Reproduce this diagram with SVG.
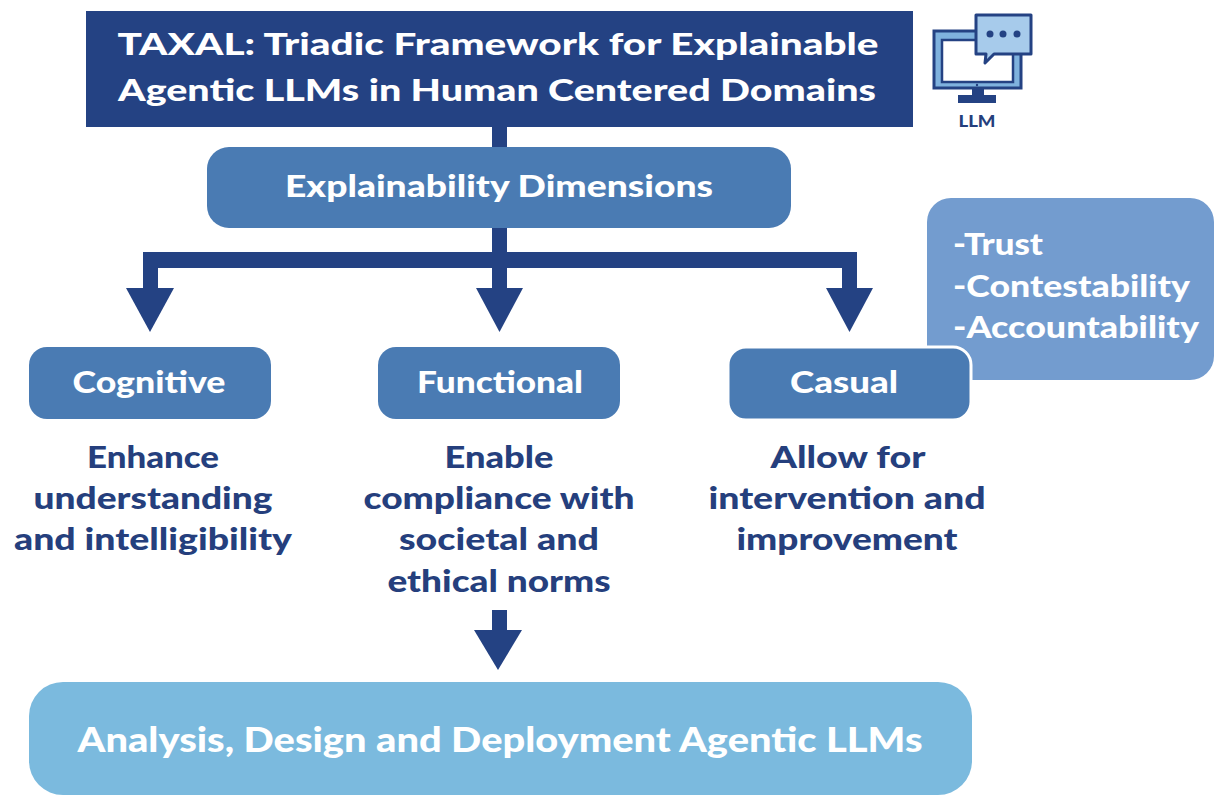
<svg xmlns="http://www.w3.org/2000/svg" width="1214" height="795" viewBox="0 0 1214 795">
<style>
.t{font-family:Lato,"Liberation Sans",sans-serif;font-weight:900;}
.w{fill:#ffffff;}
.n{fill:#253f7d;}
.dark{fill:#244283;}
.mid{fill:#4a7bb3;}
.c{text-anchor:middle;}
</style>
<rect width="1214" height="795" fill="#ffffff"/>
<g id="connectors" fill="#244283" stroke="none">
  <rect x="492" y="125" width="15" height="24"/>
  <rect x="492" y="226" width="15" height="30"/>
  <rect x="143" y="252" width="714" height="16"/>
  <rect x="143" y="252" width="15" height="38"/>
  <polygon points="126,288 174,288 150,332"/>
  <rect x="492" y="252" width="15" height="38"/>
  <polygon points="476,288 523,288 499.5,332"/>
  <rect x="842" y="252" width="15" height="38"/>
  <polygon points="826,288 873,288 849.5,332"/>
  <rect x="492" y="610" width="15" height="22"/>
  <polygon points="474,630 522,630 498,670"/>
</g>
<g id="title">
  <rect x="86" y="11" width="827" height="116" class="dark"/>
  <text class="t w c" x="498" y="55" font-size="31" textLength="761" lengthAdjust="spacingAndGlyphs">TAXAL: Triadic Framework for Explainable</text>
  <text class="t w c" x="497" y="101" font-size="31" textLength="758" lengthAdjust="spacingAndGlyphs">Agentic LLMs in Human Centered Domains</text>
</g>
<g id="llm-icon">
  <rect x="934" y="31" width="87" height="57" fill="#7fb2de" stroke="#244283" stroke-width="3"/>
  <rect x="942" y="40" width="71" height="42" fill="#ffffff" stroke="#244283" stroke-width="2.5"/>
  <rect x="972" y="88" width="12" height="7" fill="#244283"/>
  <rect x="958" y="95" width="38" height="8" fill="#244283"/>
  <circle cx="977" cy="85" r="1.2" fill="#244283"/>
  <path d="M976,15 L1031,15 L1031,54 L994,54 L985,63 L986,54 L976,54 Z" fill="#a7cbeb" stroke="#244283" stroke-width="3" stroke-linejoin="round"/>
  <circle cx="990" cy="34" r="3.5" fill="#244283"/>
  <circle cx="1003" cy="34" r="3.5" fill="#244283"/>
  <circle cx="1017" cy="34" r="3.5" fill="#244283"/>
  <text class="t n c" x="977" y="127" font-size="17" textLength="37" lengthAdjust="spacingAndGlyphs">LLM</text>
</g>
<g id="explainability">
  <rect x="207" y="147" width="584" height="81" rx="22" class="mid"/>
  <text class="t w c" x="499" y="197" font-size="31" textLength="428" lengthAdjust="spacingAndGlyphs">Explainability Dimensions</text>
</g>
<g id="outcomes">
  <rect x="927" y="198" width="287" height="182" rx="24" fill="#739ccf"/>
  <text class="t w" x="953" y="255" font-size="31" textLength="90" lengthAdjust="spacingAndGlyphs">-Trust</text>
  <text class="t w" x="953" y="297" font-size="31" textLength="237" lengthAdjust="spacingAndGlyphs">-Contestability</text>
  <text class="t w" x="953" y="338" font-size="31" textLength="246" lengthAdjust="spacingAndGlyphs">-Accountability</text>
</g>
<g id="cognitive">
  <rect x="29" y="347" width="242" height="72" rx="18" class="mid"/>
  <text class="t w c" x="149" y="393" font-size="31" textLength="153" lengthAdjust="spacingAndGlyphs">Cognitive</text>
  <text class="t n c" x="153" y="468" font-size="31" textLength="132" lengthAdjust="spacingAndGlyphs">Enhance</text>
  <text class="t n c" x="153" y="509" font-size="31" textLength="239" lengthAdjust="spacingAndGlyphs">understanding</text>
  <text class="t n c" x="153" y="550" font-size="31" textLength="278" lengthAdjust="spacingAndGlyphs">and intelligibility</text>
</g>
<g id="functional">
  <rect x="378" y="347" width="242" height="72" rx="18" class="mid"/>
  <text class="t w c" x="500" y="393" font-size="31" textLength="166" lengthAdjust="spacingAndGlyphs">Functional</text>
  <text class="t n c" x="499" y="468" font-size="31" textLength="109" lengthAdjust="spacingAndGlyphs">Enable</text>
  <text class="t n c" x="499" y="509" font-size="31" textLength="271" lengthAdjust="spacingAndGlyphs">compliance with</text>
  <text class="t n c" x="499" y="550" font-size="31" textLength="200" lengthAdjust="spacingAndGlyphs">societal and</text>
  <text class="t n c" x="499" y="592" font-size="31" textLength="223" lengthAdjust="spacingAndGlyphs">ethical norms</text>
</g>
<g id="casual">
  <rect x="728" y="347" width="243" height="73" rx="18" class="mid" stroke="#ffffff" stroke-width="3"/>
  <text class="t w c" x="844" y="393" font-size="31" textLength="108" lengthAdjust="spacingAndGlyphs">Casual</text>
  <text class="t n c" x="848" y="468" font-size="31" textLength="155" lengthAdjust="spacingAndGlyphs">Allow for</text>
  <text class="t n c" x="847" y="509" font-size="31" textLength="277" lengthAdjust="spacingAndGlyphs">intervention and</text>
  <text class="t n c" x="847" y="550" font-size="31" textLength="221" lengthAdjust="spacingAndGlyphs">improvement</text>
</g>
<g id="analysis">
  <rect x="29" y="682" width="943" height="113" rx="34" fill="#7bbade"/>
  <text class="t w c" x="500" y="752" font-size="35" textLength="845" lengthAdjust="spacingAndGlyphs">Analysis, Design and Deployment Agentic LLMs</text>
</g>
</svg>
